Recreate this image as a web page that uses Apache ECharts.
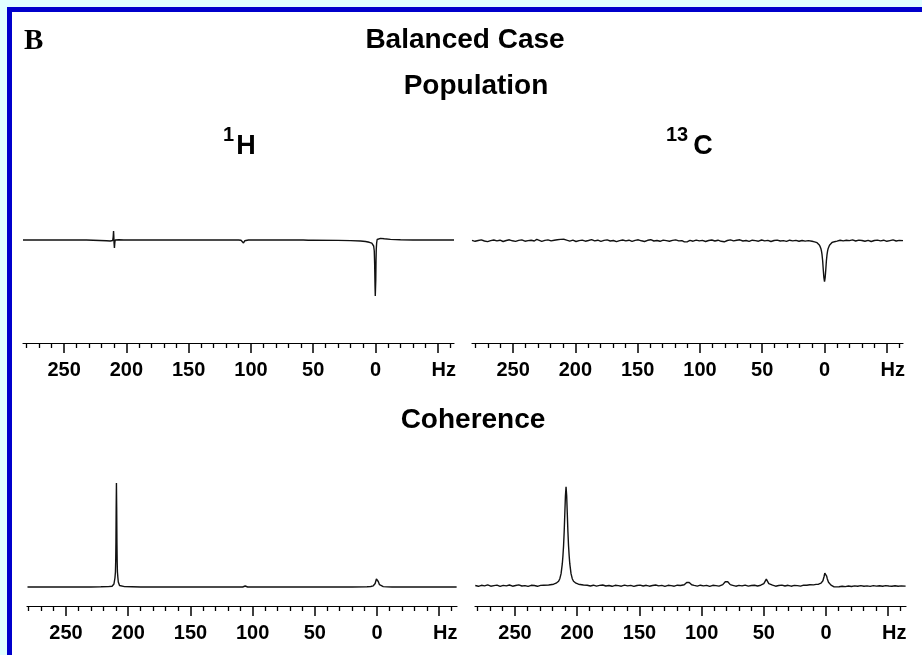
<!DOCTYPE html>
<html>
<head>
<meta charset="utf-8">
<script src="https://cdn.jsdelivr.net/npm/echarts@6/dist/echarts.min.js"></script>
<style>
html,body{margin:0;padding:0;background:#e0ffff;overflow:hidden;width:922px;height:655px;}
#frame{position:absolute;left:7px;top:7px;width:930px;height:660px;border-left:5px solid #0000cc;border-top:5px solid #0000cc;background:#fff;}
#chart{position:absolute;left:0;top:0;width:922px;height:655px;}
</style>
</head>
<body>
<div id="frame"></div>
<div id="chart"></div>
<script>
// Tick labels (Hz); the last major tick carries the unit label instead of a number
var majorTicks = [250, 200, 150, 100, 50, 0, -50];
var minorTicks = [280,270,260,240,230,220,210,190,180,170,160,140,130,120,110,90,80,70,60,40,30,20,10,-10,-20,-30,-40,-60];
var unitLabel = 'Hz';

// 1H population spectrum [Hz, intensity]
var pop1H = [[283,0],[232,0],[231,-0.7],[216,-0.7],[213,-1],[211.5,-1.4],[211,-0.5],[210.6,3],[210.3,9],[210.1,4],[209.9,-3],[209.6,-8],[209.3,-3],[209,0],[208,0.4],[206,0.2],[202,0],[110,0],[108,-0.3],[107,-1],[106.5,-2],[106,-3],[105.5,-2],[105,-0.8],[104,-0.2],[102,0],[58,0],[57,-0.4],[54,-0.3],[50,-0.2],[30,-0.4],[20,-0.6],[12,-1],[8,-1.5],[5,-2.3],[3,-3.2],[2,-4.2],[1.5,-6],[1,-11],[0.7,-24],[0.4,-46],[0.2,-56],[0,-54],[-0.2,-40],[-0.4,-20],[-0.6,-9],[-0.9,-3],[-1.3,0.5],[-2,1.5],[-4,1.6],[-7,1.2],[-12,0.6],[-20,0.2],[-30,0],[-63,0]];

// 13C population spectrum
var pop13C = [[283,0.3],[280.5,-0.6],[278,0.2],[275.5,0.8],[273,-0.3],[270.5,-0.9],[268,0.1],[265.5,0.7],[263,-0.2],[260.5,0.5],[258,-0.8],[255.5,0.2],[253,0.9],[250.5,-0.1],[248,-0.7],[245.5,0.3],[243,0.8],[240.5,-0.5],[238,0.1],[235.5,0.5],[233,-0.3],[231,1.4],[229.5,0.2],[227,-0.6],[224.5,0.3],[222,0.8],[219.5,-0.2],[217,0.5],[214.5,0.9],[212,1.3],[210.5,2.1],[209,1.4],[207,0.5],[204.5,-0.4],[202,0.5],[199.5,-0.8],[197,0.1],[194.5,0.6],[192,-0.5],[189.5,0.2],[187,1.1],[184.5,-0.2],[182,0.5],[179.5,-0.7],[177,0.3],[174.5,0.8],[172,-0.3],[169.5,0.2],[167,-0.9],[164.5,0.1],[162,0.7],[159.5,-0.2],[157,0.5],[154.5,-0.7],[152,0.3],[149.5,0.9],[147,-0.1],[144.5,-0.8],[142,0.4],[139.5,1.0],[137,-0.3],[134.5,0.2],[132,-0.6],[129.5,0.6],[127,0.1],[124.5,-0.5],[122,0.3],[119.5,0.8],[117,-0.2],[114.5,0.1],[112.5,-1.2],[111.2,-3.0],[110,-1.0],[108,0.3],[105.5,-0.5],[103,0.6],[100.5,-0.2],[98,0.3],[95.5,-0.8],[93,0.2],[90.5,0.7],[88,-0.3],[85.5,0.5],[83,-0.6],[80.5,-1.1],[78,0.2],[75.5,0.8],[73,-0.2],[70.5,0.5],[68,0.9],[65.5,-0.3],[63,0.2],[60.5,-0.7],[58,0.5],[55.5,0.1],[53,-0.5],[50.5,0.7],[48,-0.2],[45.5,0.3],[43,-0.8],[40.5,0.2],[38,0.6],[35.5,-0.3],[33,0.1],[30.5,-0.7],[28,0.5],[25.5,-0.2],[23,0.3],[20.5,-0.5],[18,0.2],[15.5,-0.4],[13,0.1],[10,-0.6],[8,-1.2],[6,-2.0],[5,-2.8],[4,-4.5],[3,-7.5],[2.5,-10],[2,-14],[1.5,-20],[1,-29],[0.5,-37],[0,-41],[-0.5,-37],[-1,-29],[-1.5,-20],[-2,-14],[-2.5,-10],[-3,-7.5],[-4,-4.5],[-5,-2.8],[-6,-1.8],[-8,-1.0],[-10,-0.4],[-12.5,0.4],[-15,-0.2],[-17.5,0.5],[-20,0.1],[-22.5,0.8],[-25,-0.3],[-27.5,0.6],[-30,0.2],[-32.5,-0.5],[-35,0.3],[-37.5,-0.8],[-40,0.2],[-42.5,0.6],[-45,-0.2],[-47.5,0.5],[-50,-0.6],[-52.5,0.1],[-55,0.8],[-57.5,-0.3],[-60,0.3],[-63,0.1]];

// 1H coherence spectrum
var coh1H = [[281,0],[230,0],[222,0.2],[216,0.4],[213,0.8],[212,1.5],[211.5,3],[211,5],[210.7,9],[210.3,15],[210.1,25],[209.9,45],[209.7,80],[209.5,104],[209.3,80],[209.1,45],[208.9,25],[208.7,15],[208.3,9],[208,5],[207.5,3],[207,1.5],[206,0.8],[203,0.4],[197,0.2],[190,0],[108,0],[106.5,0.4],[106,1],[105.5,0.4],[104,0],[20,0],[8,0.2],[5,0.5],[3,1.2],[2,2.3],[1.5,3.5],[1,5.5],[0.5,8],[0,9],[-0.5,8],[-1,5.5],[-1.5,3.5],[-2,2.3],[-3,1.2],[-5,0.4],[-8,0.1],[-12,0],[-64,0]];

// 13C coherence spectrum
var coh13C = [[282,0.2],[279.5,-0.6],[277,0.4],[274.5,-0.2],[272,0.8],[269.5,-0.5],[267,0.1],[264.5,0.6],[262,-0.7],[259.5,0.3],[257,-0.2],[254.5,0.7],[252,-0.5],[249.5,0.2],[247,0.8],[244.5,-0.3],[242,0.1],[239.5,-0.7],[237,0.4],[234.5,0.2],[232,-0.6],[229.5,0.3],[227,0.5],[223,0.7],[219,1.5],[217,2.5],[215,4.5],[214,7],[213,12],[212,22],[211.5,30],[211,40],[210.5,54],[210,72],[209.5,90],[209,99],[208.5,90],[208,72],[207.5,54],[207,40],[206.5,30],[206,22],[205,12],[204,7],[203,4.5],[201,2.5],[199,1.5],[195,0.7],[192,0.5],[189.5,-0.3],[187,0.5],[184.5,-0.4],[182,0.3],[179.5,0.7],[177,-0.3],[174.5,0.2],[172,-0.6],[169.5,0.4],[167,0.1],[164.5,-0.5],[162,0.6],[159.5,-0.2],[157,0.3],[154.5,-0.7],[152,0.2],[149.5,0.6],[147,-0.3],[144.5,0.4],[142,-0.5],[139.5,0.2],[137,0.7],[134.5,-0.2],[132,0.3],[129.5,-0.6],[127,0.4],[124.5,0.1],[122,-0.5],[119.5,0.5],[117,0.2],[116,0.3],[114,0.9],[113,1.6],[112.5,2.3],[112,3.2],[111.5,4.2],[111,4.7],[110.5,4.2],[110,3.2],[109.5,2.3],[109,1.6],[108,0.9],[106,0.3],[103.5,-0.4],[101,0.5],[98.5,-0.2],[96,0.3],[93.5,-0.6],[91,0.4],[88.5,0.1],[86,-0.4],[84.5,0.4],[83,1.1],[82,2],[81.5,2.8],[81,4],[80.5,5.3],[80,6],[79.5,5.3],[79,4],[78.5,2.8],[78,2],[77,1.1],[75,0.4],[72.5,-0.5],[70,0.3],[67.5,-0.2],[65,0.6],[62.5,-0.4],[60,0.2],[57.5,0.5],[55,-0.3],[52.5,0.5],[51,1.2],[50,2.1],[49.5,3],[49,4.3],[48.5,5.7],[48,6.5],[47.5,5.7],[47,4.3],[46.5,3],[46,2.1],[45,1.2],[43,0.5],[40.5,-0.5],[38,0.2],[35.5,0.6],[33,-0.3],[30.5,0.4],[28,-0.5],[25.5,0.3],[23,0.1],[20.5,-0.4],[18,0.6],[15.5,0.5],[13,1],[10,0.8],[8,1.3],[6,1.5],[5,2],[4,2.6],[3,3.6],[2.5,5],[2,7],[1.5,9.5],[1,12.5],[0.5,14],[0,12.5],[-0.5,9.5],[-1,7],[-1.5,5],[-2,3.5],[-3,1.8],[-4,0.6],[-5,-0.6],[-6.5,-1.2],[-8,-0.8],[-10.5,-1.1],[-13,-0.5],[-15.5,-0.9],[-18,-0.3],[-20.5,-0.8],[-23,-0.2],[-25.5,-0.6],[-28,0.1],[-30.5,-0.5],[-33,-0.2],[-35.5,-0.7],[-38,0.1],[-40.5,-0.4],[-43,-0.1],[-45.5,-0.6],[-48,0.1],[-50.5,-0.3],[-53,-0.6],[-55.5,0],[-58,-0.5],[-60.5,-0.2],[-64,-0.4]];

var SANS = '"Liberation Sans", Arial, sans-serif';

function majorAxis(g, min, max) {
  return {
    type: 'value', gridIndex: g, min: min, max: max, inverse: true, position: 'bottom',
    axisLine: { show: true, onZero: false, lineStyle: { color: '#000', width: 1.2 } },
    axisTick: { show: true, inside: false, length: 10, customValues: majorTicks, lineStyle: { color: '#000', width: 1.5 } },
    axisLabel: {
      show: true, customValues: majorTicks, margin: 17, color: '#000', fontSize: 20, fontWeight: 'bold', fontFamily: SANS,
      formatter: function (v) { return v === -50 ? '{hz|' + unitLabel + '}' : String(v); },
      rich: { hz: { fontSize: 20, fontWeight: 'bold', fontFamily: SANS, color: '#000', padding: [0, 0, 0, 12] } }
    },
    splitLine: { show: false }
  };
}
function minorAxis(g, min, max) {
  return {
    type: 'value', gridIndex: g, min: min, max: max, inverse: true, position: 'bottom',
    axisLine: { show: false, onZero: false },
    axisTick: { show: true, inside: false, length: 5, customValues: minorTicks, lineStyle: { color: '#000', width: 1.3 } },
    axisLabel: { show: false },
    splitLine: { show: false }
  };
}
function yAxis(g, min, max) {
  return { type: 'value', gridIndex: g, min: min, max: max, show: false, splitLine: { show: false } };
}
function spectrum(g, data) {
  return {
    type: 'line', xAxisIndex: g * 2, yAxisIndex: g, data: data, showSymbol: false, symbol: 'none',
    lineStyle: { color: '#111', width: 1.4 }, silent: true, animation: false
  };
}
function txt(x, y, s, size, weight, family, align) {
  return {
    type: 'text', x: x, y: y, silent: true,
    style: { text: s, fill: '#000', font: weight + ' ' + size + 'px ' + family,
      align: align || 'center', verticalAlign: 'middle', textAlign: align || 'center', textVerticalAlign: 'middle' }
  };
}

var chart = echarts.init(document.getElementById('chart'), null, { renderer: 'canvas' });
chart.setOption({
  backgroundColor: 'transparent',
  animation: false,
  grid: [
    { left: 23, top: 190, width: 431, height: 153 },
    { left: 472, top: 190, width: 431, height: 153 },
    { left: 27, top: 460, width: 430, height: 146 },
    { left: 475, top: 460, width: 431, height: 146 }
  ],
  xAxis: [
    majorAxis(0, -63, 283), minorAxis(0, -63, 283),
    majorAxis(1, -63, 283), minorAxis(1, -63, 283),
    majorAxis(2, -64.3, 281.4), minorAxis(2, -64.3, 281.4),
    majorAxis(3, -64.3, 282.2), minorAxis(3, -64.3, 282.2)
  ],
  yAxis: [yAxis(0, -103, 50), yAxis(1, -102.3, 50.7), yAxis(2, -19, 127), yAxis(3, -20.3, 125.7)],
  series: [spectrum(0, pop1H), spectrum(1, pop13C), spectrum(2, coh1H), spectrum(3, coh13C)],
  graphic: [
    txt(24, 42, 'B', 29, 'bold', '"Liberation Serif", "Times New Roman", serif', 'left'),
    txt(465, 40, 'Balanced Case', 28, 'bold', SANS),
    txt(476, 86, 'Population', 28, 'bold', SANS),
    txt(228.5, 135.5, '1', 20, 'bold', SANS),
    txt(246, 147, 'H', 27, 'bold', SANS),
    txt(677, 135.5, '13', 20, 'bold', SANS),
    txt(703, 147, 'C', 27, 'bold', SANS),
    txt(473, 420, 'Coherence', 28, 'bold', SANS)
  ]
});
</script>
</body>
</html>
